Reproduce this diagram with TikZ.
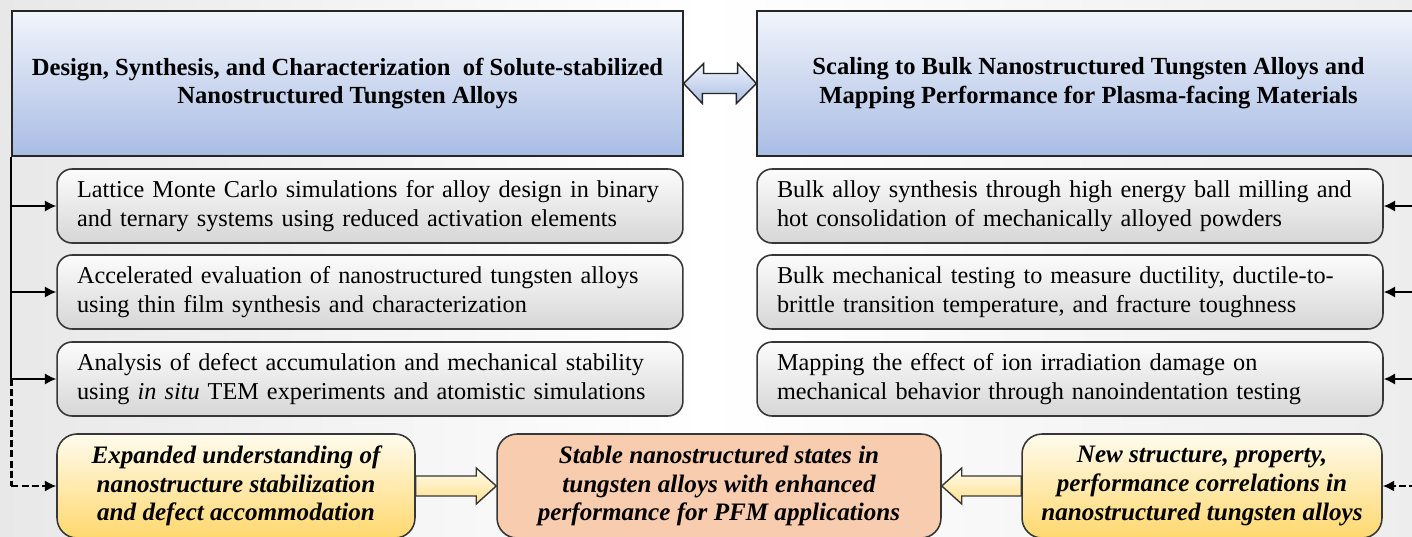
\documentclass[tikz,border=0pt]{standalone}
\usepackage{fontspec}
\setmainfont{Liberation Serif}
\usetikzlibrary{positioning,calc,arrows.meta}

\definecolor{headtop}{RGB}{242,245,251}
\definecolor{headbot}{RGB}{168,188,228}
\definecolor{boxtop}{RGB}{252,252,252}
\definecolor{boxbot}{RGB}{214,214,214}
\definecolor{goldtop}{RGB}{255,252,238}
\definecolor{goldbot}{RGB}{255,216,110}
\definecolor{salmon}{RGB}{248,204,174}
\definecolor{edge}{RGB}{55,55,55}

\tikzset{
  header/.style={draw=black!85,line width=0.8pt,top color=headtop,bottom color=headbot,
    minimum height=2.9cm,align=center,font=\fontsize{14}{16.4}\selectfont\bfseries},
  taskbox/.style={draw=edge,line width=0.9pt,rounded corners=0.3cm,top color=boxtop,bottom color=boxbot,
    minimum width=12.52cm,minimum height=1.48cm,text width=11.72cm,align=left,
    font=\fontsize{13.8}{16.4}\selectfont},
  outcome/.style={draw=edge,line width=0.9pt,rounded corners=0.4cm,minimum height=2.08cm,
    align=center,font=\fontsize{14.3}{16.4}\selectfont\bfseries\itshape},
  feed/.style={-{Latex[length=6.5pt,width=6.5pt]},line width=1.1pt,black},
  dashline/.style={line width=1.3pt,dash pattern=on 4pt off 1.8pt},
}

\begin{document}
\begin{tikzpicture}[x=0.02cm,y=-0.02cm]

	% page and background
	\useasboundingbox (0,0) rectangle (1412,537);
	\shade[left color=black!9,right color=black!7,middle color=white] (0,0) rectangle (1412,537);

	% the two headers
	\node[header,minimum width=13.42cm] (hl) at (347.5,83.5)
	  {Design, Synthesis, and Characterization\ \ of Solute-stabilized\\Nanostructured Tungsten Alloys};
	\node[header,minimum width=13.26cm] (hr) at (1088.5,83.5)
	  {Scaling to Bulk Nanostructured Tungsten Alloys and\\Mapping Performance for Plasma-facing Materials};

	% double arrow between the headers
	\draw[line width=0.8pt,black!85,top color=headtop,bottom color=headbot]
	  (hl.east) -- ++(20,-20) -- ++(0,10) -- ++(34,0) -- ++(0,-10) -- (hr.west)
	  -- ++(-20,20) -- ++(0,-10) -- ++(-34,0) -- ++(0,10) -- cycle;

	% left column
	\node[taskbox] (l1) at (370,206)
	  {Lattice Monte Carlo simulations for alloy design in binary\\and ternary systems using reduced activation elements};
	\node[taskbox] (l2) at (370,292)
	  {Accelerated evaluation of nanostructured tungsten alloys\\using thin film synthesis and characterization};
	\node[taskbox] (l3) at (370,379)
	  {Analysis of defect accumulation and mechanical stability\\using \textit{in situ} TEM experiments and atomistic simulations};

	% right column
	\node[taskbox] (r1) at (1070,206)
	  {Bulk alloy synthesis through high energy ball milling and\\hot consolidation of mechanically alloyed powders};
	\node[taskbox] (r2) at (1070,292)
	  {Bulk mechanical testing to measure ductility, ductile-to-\\brittle transition temperature, and fracture toughness};
	\node[taskbox] (r3) at (1070,379)
	  {Mapping the effect of ion irradiation damage on\\mechanical behavior through nanoindentation testing};

	% outcomes
	\node[outcome,top color=goldtop,bottom color=goldbot,minimum width=7.16cm] (yl) at (236,486)
	  {Expanded understanding of\\nanostructure stabilization\\and defect accommodation};
	\node[outcome,fill=salmon,minimum width=8.88cm] (mid) at (719,486)
	  {Stable nanostructured states in\\tungsten alloys with enhanced\\performance for PFM applications};
	\node[outcome,top color=goldtop,bottom color=goldbot,minimum width=7.2cm] (yr) at (1202,486)
	  {New structure, property,\\performance correlations in\\nanostructured tungsten alloys};

	% trunks
	\coordinate (ltop) at (hl.south west);
	\coordinate (lend) at (ltop |- yl.west);
	\coordinate (rtrunk) at (1416,0);
	\draw[line width=1.1pt] (ltop) -- (ltop |- l3.west);
	\draw[dashline] (ltop |- l3.west) -- (lend);
	\foreach \b in {l1,l2,l3}
	  \draw[feed] (ltop |- \b.west) -- (\b.west);
	\draw[feed,dashline] (lend) -- (yl.west);
	\foreach \b in {r1,r2,r3}
	  \draw[feed] (rtrunk |- \b.east) -- (\b.east);
	\draw[feed,dashline] (rtrunk |- yr.east) -- (yr.east);

	% block arrows into the middle outcome
	\draw[line width=0.8pt,edge,top color=goldtop,bottom color=goldbot!80]
	  ($(yl.east)+(0,-10)$) -- ($(mid.west)+(-20,-10)$) -- ++(0,-8) -- (mid.west)
	  -- ++(-20,18) -- ++(0,-8) -- ($(yl.east)+(0,10)$) -- cycle;
	\draw[line width=0.8pt,edge,top color=goldtop,bottom color=goldbot!80]
	  ($(yr.west)+(0,-10)$) -- ($(mid.east)+(20,-10)$) -- ++(0,-8) -- (mid.east)
	  -- ++(20,18) -- ++(0,-8) -- ($(yr.west)+(0,10)$) -- cycle;

\end{tikzpicture}
\end{document}
